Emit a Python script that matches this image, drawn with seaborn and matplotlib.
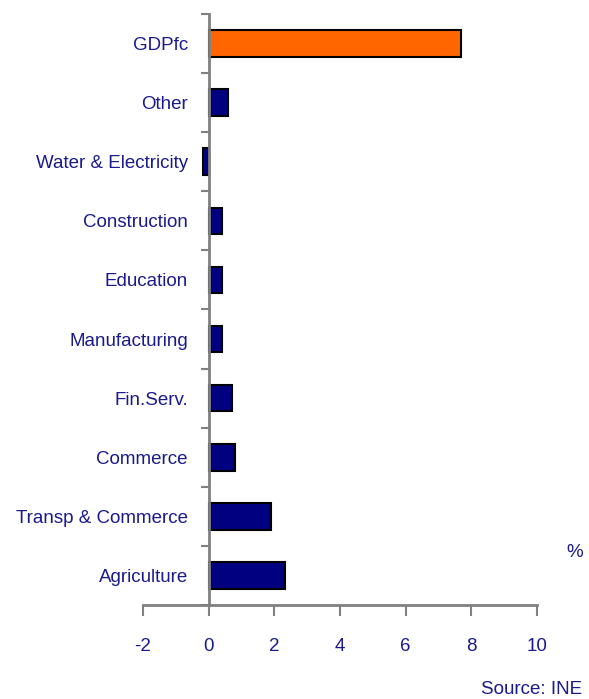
import numpy as np
import pandas as pd
import seaborn as sns
import matplotlib as mpl
mpl.use('Agg')
import matplotlib.pyplot as plt
from matplotlib.ticker import FixedLocator

sectors = ['GDPfc', 'Other', 'Water & Electricity', 'Construction', 'Education',
           'Manufacturing', 'Fin.Serv.', 'Commerce', 'Transp & Commerce', 'Agriculture']
growth = [7.7, 0.6, -0.17, 0.42, 0.42, 0.42, 0.72, 0.8, 1.9, 2.32]
bar_colors = ['#FF6600'] + ['#000080'] * 9
xticks = [-2, 0, 2, 4, 6, 8, 10]

sns.set_style('white')
plt.rcParams['font.family'] = ['Liberation Sans Narrow', 'Liberation Sans', 'DejaVu Sans']
txt = '#1a1a8c'
grey = '#808080'
fs = 13.5

df = pd.DataFrame({'sector': sectors, 'growth': growth})

fig = plt.figure(figsize=(5.89, 6.99), dpi=100)
ax = fig.add_axes([0.2428, 0.1345, 0.9117 - 0.2428, 0.98 - 0.1345])
sns.barplot(data=df, x='growth', y='sector', hue='sector', palette=bar_colors,
            legend=False, width=0.45, edgecolor='black', linewidth=1.5,
            saturation=1, ax=ax)

ax.set_xlim(-2, 10)
ax.set_ylim(len(sectors) - 0.5, -0.5)
ax.set_xticks(xticks)
ax.set_xticklabels([str(v) for v in xticks], color=txt, fontsize=fs)
ax.tick_params(axis='x', direction='out', length=8, width=1.5, color=grey, pad=16, bottom=True)

ax.yaxis.set_major_locator(FixedLocator(np.arange(-0.5, len(sectors), 1)))
ax.yaxis.set_major_formatter(mpl.ticker.NullFormatter())
ax.yaxis.set_minor_locator(FixedLocator(np.arange(len(sectors))))
ax.yaxis.set_minor_formatter(mpl.ticker.FixedFormatter(sectors))
ax.tick_params(axis='y', which='major', direction='out', length=6, width=1.5, color=grey, left=True)
ax.tick_params(axis='y', which='minor', length=0, pad=15, labelsize=fs, labelcolor=txt)

ax.spines['left'].set_position(('data', 0))
for s in ['left', 'bottom']:
    ax.spines[s].set_color(grey)
    ax.spines[s].set_linewidth(2)
for s in ['top', 'right']:
    ax.spines[s].set_visible(False)
ax.set_xlabel('')
ax.set_ylabel('')

fig.text(0.99, 0.21, '%', ha='right', va='center', color=txt, fontsize=fs)
fig.text(0.988, 0.013, 'Source: INE', ha='right', va='center', color=txt, fontsize=fs)

plt.savefig('out.png', dpi=100)
